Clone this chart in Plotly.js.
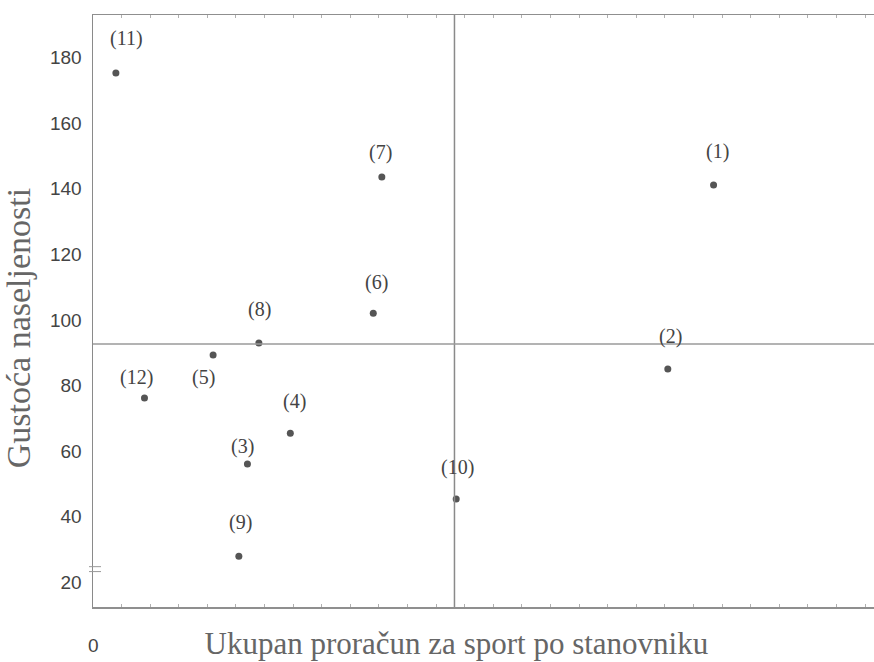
<!DOCTYPE html>
<html>
<head>
<meta charset="utf-8">
<script src="https://cdn.plot.ly/plotly-3.0.1.min.js"></script>
<style>html,body{margin:0;padding:0;background:#fff;}#chart{width:874px;height:662px;}</style>
</head>
<body>
<div id="chart"></div>
<script>
// Data
const pointLabels = ["(1)", "(2)", "(3)", "(4)", "(5)", "(6)", "(7)", "(8)", "(9)", "(10)", "(11)", "(12)"];
const budgetPerCapita = [21.7, 20.1, 5.4, 6.9, 4.2, 9.8, 10.1, 5.8, 5.1, 12.7, 0.8, 1.8];
const populationDensity = [141.2, 85.1, 56.1, 65.5, 89.3, 102.1, 143.6, 93.0, 28.0, 45.4, 175.3, 76.2];
const meanBudget = 12.64;
const meanDensity = 92.7;
const yTickVals = [20, 40, 60, 80, 100, 120, 140, 160, 180];

// label offsets in pixels (dx, dy up)
const labelDx = [4, 3, -5, 4, -10, 3, -1, 1, 2, 1, 11, -8];
const labelDy = [33, 32, 18, 32, -22, 31, 25, 33, 34, 32, 35, 21];

const serif = '"Liberation Serif", "Times New Roman", Times, serif';
const sans = '"Liberation Sans", Arial, sans-serif';

const xRange = [0, 27.31];
const yRange = [12.5, 193];

const trace = {
  type: 'scatter',
  mode: 'markers',
  x: budgetPerCapita,
  y: populationDensity,
  text: pointLabels,
  marker: {color: '#555555', size: 7},
  hoverinfo: 'text+x+y',
  showlegend: false
};

const annotations = pointLabels.map((t, i) => ({
  x: budgetPerCapita[i], y: populationDensity[i], xref: 'x', yref: 'y',
  text: t, showarrow: false, xanchor: 'center', yanchor: 'middle',
  xshift: labelDx[i], yshift: labelDy[i],
  font: {family: serif, size: 20, color: '#444444'}
}));
annotations.push({
  x: 0, y: 0, xref: 'x', yref: 'paper', text: '0', showarrow: false,
  xanchor: 'center', yanchor: 'middle', yshift: -38,
  font: {family: sans, size: 19, color: '#444444'}
});

const shapes = [
  {type: 'line', xref: 'x', yref: 'paper', x0: meanBudget, x1: meanBudget, y0: 0, y1: 1,
   line: {color: '#8a8a8a', width: 1.5}},
  {type: 'line', xref: 'paper', yref: 'y', x0: 0, x1: 1, y0: meanDensity, y1: meanDensity,
   line: {color: '#9a9a9a', width: 1.5}},
  // axis break marks
  {type: 'line', xref: 'paper', yref: 'y', xsizemode: 'pixel', xanchor: 0, x0: -4, x1: 8,
   y0: 24.8, y1: 24.8, line: {color: '#999999', width: 1}},
  {type: 'line', xref: 'paper', yref: 'y', xsizemode: 'pixel', xanchor: 0, x0: -4, x1: 8,
   y0: 23.3, y1: 23.3, line: {color: '#999999', width: 1}}
];

const layout = {
  width: 874, height: 662,
  margin: {l: 93, r: 0, t: 15, b: 55},
  paper_bgcolor: '#ffffff', plot_bgcolor: '#ffffff',
  showlegend: false,
  xaxis: {
    range: xRange, showgrid: false, zeroline: false,
    showline: true, linecolor: '#8f8f8f', linewidth: 1.5, mirror: 'allticks',
    ticks: 'inside', ticklen: 3, tickwidth: 1, tickcolor: '#b0b0b0', dtick: 1, tick0: 0,
    showticklabels: false,
    title: {text: 'Ukupan proračun za sport po stanovniku&nbsp;&nbsp;&nbsp;&nbsp;&nbsp;&nbsp;&nbsp;', standoff: 25,
            font: {family: serif, size: 31, color: '#666666'}}
  },
  yaxis: {
    range: yRange, showgrid: false, zeroline: false,
    showline: true, linecolor: '#8a8a8a', linewidth: 1.5,
    ticks: '', tickvals: yTickVals, ticklabelstandoff: 6,
    tickfont: {family: sans, size: 19, color: '#444444'},
    title: {text: 'Gustoća naseljenosti&nbsp;&nbsp;&nbsp;&nbsp;', standoff: 10,
            font: {family: serif, size: 34, color: '#666666'}}
  },
  annotations: annotations,
  shapes: shapes
};

Plotly.newPlot('chart', [trace], layout, {displayModeBar: false, staticPlot: true});
</script>
</body>
</html>
